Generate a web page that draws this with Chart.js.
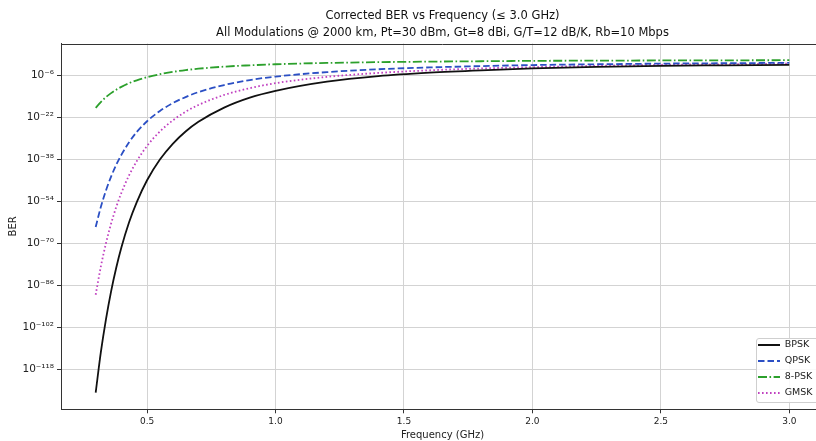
<!DOCTYPE html>
<html>
<head>
<meta charset="utf-8">
<script src="https://cdn.jsdelivr.net/npm/chart.js@4.4.1/dist/chart.umd.min.js"></script>
<style>
html,body{margin:0;padding:0;background:#fff;overflow:hidden;width:816px;height:441px}
#wrap{position:relative;width:830px;height:441px}
</style>
</head>
<body>
<div id="wrap"><canvas id="c"></canvas></div>
<script>
// ---- text ----
const titleLines = [
  'Corrected BER vs Frequency (\u2264 3.0 GHz)',
  'All Modulations @ 2000 km, Pt=30 dBm, Gt=8 dBi, G/T=12 dB/K, Rb=10 Mbps'
];
const xAxisTitle = 'Frequency (GHz)';
const yAxisTitle = 'BER';
const seriesNames = ['BPSK', 'QPSK', '8-PSK', 'GMSK'];

// ---- data (BER given as log10 exponents) ----
const freqGHz = [0.30,0.32,0.34,0.36,0.38,0.40,0.43,0.46,0.50,0.55,0.60,0.65,0.70,0.80,0.90,1.00,1.20,1.40,1.60,1.80,2.00,2.25,2.50,2.75,3.00];
const bpskLog10 = [-126.9,-111.6,-99.0,-88.3,-79.3,-71.6,-62.0,-54.3,-46.0,-38.1,-32.1,-27.4,-23.7,-18.3,-14.5,-11.9,-8.4,-6.3,-5.0,-4.1,-3.4,-2.8,-2.4,-2.2,-2.0];
const qpskLog10 = [-63.8,-56.2,-49.9,-44.6,-40.1,-36.3,-31.5,-27.6,-23.5,-19.6,-16.6,-14.3,-12.4,-9.7,-7.8,-6.5,-4.8,-3.7,-3.0,-2.5,-2.1,-1.8,-1.55,-1.4,-1.25];
const psk8Log10 = [-18.4,-16.2,-14.3,-12.8,-11.5,-10.4,-9.0,-7.9,-6.7,-5.6,-4.7,-4.0,-3.5,-2.7,-2.2,-1.8,-1.3,-1.0,-0.8,-0.65,-0.5,-0.42,-0.35,-0.3,-0.25];
const gmskLog10 = [-89.6,-78.9,-70.0,-62.5,-56.2,-50.8,-44.1,-38.7,-32.9,-27.4,-23.2,-19.9,-17.3,-13.5,-10.9,-9.0,-6.6,-5.1,-4.1,-3.4,-2.9,-2.4,-2.0,-1.8,-1.6];

// ---- ticks ----
const xTickValues = [0.5,1.0,1.5,2.0,2.5,3.0];
const yTickExponents = [-118,-102,-86,-70,-54,-38,-22,-6];
const xRange = [0.165, 3.135];
const yRangeExp = [-133.24, 6.11];

const toPoints = (logs) => freqGHz.map((f, i) => ({x: f, y: Math.pow(10, logs[i])}));
const SUP = {'-':'\u207B','0':'\u2070','1':'\u00B9','2':'\u00B2','3':'\u00B3','4':'\u2074','5':'\u2075','6':'\u2076','7':'\u2077','8':'\u2078','9':'\u2079'};
const supStr = (n) => String(n).split('').map(c => SUP[c]).join('');

const FONT = 'DejaVu Sans';
const TXT = '#222';

function drawLegendFrame(chart) {
  const ca = chart.chartArea, ctx = chart.ctx;
  const x0 = ca.right - 68, y0 = ca.bottom - 71.3, x1 = ca.right - 5, y1 = ca.bottom - 7.3;
  ctx.save();
  ctx.beginPath();
  if (ctx.roundRect) ctx.roundRect(x0 + 0.5, y0 + 0.5, x1 - x0, y1 - y0, 2.5);
  else ctx.rect(x0 + 0.5, y0 + 0.5, x1 - x0, y1 - y0);
  ctx.fillStyle = 'rgba(255,255,255,0.85)';
  ctx.fill();
  ctx.strokeStyle = '#cfcfcf';
  ctx.lineWidth = 1;
  ctx.stroke();
  ctx.restore();
}

const framePlugin = {
  id: 'framePlugin',
  beforeDraw(chart) {
    const {ctx, width, height} = chart;
    ctx.save(); ctx.fillStyle = '#fff'; ctx.fillRect(0, 0, width, height); ctx.restore();
  },
  afterInit(chart) {
    const lg = chart.legend;
    const fit = lg.fit;
    lg.fit = function () { fit.call(this); this._fw = this.width; this._fh = this.height; this.width = 0; };
    const draw = lg.draw;
    lg.draw = function () { drawLegendFrame(chart); draw.apply(this, arguments); };
  },
  afterLayout(chart) {
    const ca = chart.chartArea;
    const lg = chart.legend;
    lg.left = ca.right - 72.5;
    lg.top = ca.bottom - 75.55;
    lg.width = 70; lg.height = 100;
    lg.right = lg.left + 70; lg.bottom = lg.top + 100;
    if (chart.titleBlock) { chart.titleBlock.left = ca.left; chart.titleBlock.right = ca.right; chart.titleBlock.width = ca.right - ca.left; }
  },
  afterDatasetsDraw(chart) {
    const ca = chart.chartArea, ctx = chart.ctx;
    ctx.save();
    ctx.strokeStyle = '#333';
    ctx.lineWidth = 1;
    ctx.beginPath();
    ctx.moveTo(ca.left, Math.round(ca.top) + 0.5);
    ctx.lineTo(ca.right, Math.round(ca.top) + 0.5);
    ctx.stroke();
    ctx.restore();
  }
};

const mk = (label, logs, color, dash) => ({
  label, data: toPoints(logs), borderColor: color, backgroundColor: color,
  borderWidth: 1.8, borderDash: dash, pointRadius: 0, fill: false,
  cubicInterpolationMode: 'monotone', borderCapStyle: 'butt'
});

new Chart(document.getElementById('c'), {
  type: 'line',
  data: {
    datasets: [
      mk(seriesNames[0], bpskLog10, '#111111', []),
      mk(seriesNames[1], qpskLog10, '#2b4fc4', [6.5, 3]),
      mk(seriesNames[2], psk8Log10, '#2ca02c', [9, 2.5, 1.6, 2.5]),
      mk(seriesNames[3], gmskLog10, '#c040c0', [1.6, 2.4])
    ]
  },
  plugins: [framePlugin],
  options: {
    responsive: true,
    maintainAspectRatio: false,
    animation: false,
    devicePixelRatio: 1,
    events: [],
    layout: {padding: {left: 0, right: 6, top: 0, bottom: 0}},
    plugins: {
      tooltip: {enabled: false},
      title: {
        display: true,
        text: titleLines,
        color: '#111',
        font: {family: FONT, size: 11.5, weight: 'normal', lineHeight: 17 / 11.5},
        padding: {top: 7.5, bottom: 2}
      },
      legend: {
        display: true,
        position: 'right',
        align: 'start',
        labels: {
          color: TXT,
          font: {family: FONT, size: 9.5},
          usePointStyle: true,
          pointStyle: 'line',
          pointStyleWidth: 22,
          padding: 6.5,
          generateLabels(chart) {
            const items = Chart.defaults.plugins.legend.labels.generateLabels(chart);
            return items.map(it => {
              const ds = chart.data.datasets[it.datasetIndex];
              return Object.assign(it, {
                lineDash: ds.borderDash || [], strokeStyle: ds.borderColor,
                lineWidth: ds.borderWidth, pointStyle: 'line', lineCap: 'butt', rotation: 0
              });
            });
          }
        }
      }
    },
    scales: {
      x: {
        type: 'linear',
        min: xRange[0],
        max: xRange[1],
        afterBuildTicks(scale) { scale.ticks = xTickValues.map(v => ({value: v})); },
        afterFit(scale) { scale.height = 31.7; },
        ticks: {color: TXT, font: {family: FONT, size: 9}, padding: 3, maxRotation: 0, autoSkip: false,
                callback: v => Number(v).toFixed(1)},
        grid: {color: '#d3d3d3', lineWidth: 1, tickLength: 4, tickColor: '#333', drawTicks: true},
        border: {display: true, color: '#333', width: 1},
        title: {display: true, text: xAxisTitle, color: TXT, font: {family: FONT, size: 10, lineHeight: 1.2}, padding: {top: 0, bottom: 0}}
      },
      y: {
        type: 'logarithmic',
        min: Math.pow(10, yRangeExp[0]),
        max: Math.pow(10, yRangeExp[1]),
        bounds: 'data',
        afterBuildTicks(scale) { scale.ticks = yTickExponents.map(e => ({value: Math.pow(10, e)})); },
        afterFit(scale) { scale.width = 61; },
        ticks: {color: TXT, font: {family: FONT, size: 10.5}, padding: 3, autoSkip: false,
                callback: v => '10' + supStr(Math.round(Math.log10(v)))},
        grid: {color: '#d3d3d3', lineWidth: 1, tickLength: 4, tickColor: '#333', drawTicks: true},
        border: {display: true, color: '#333', width: 1},
        title: {display: true, text: yAxisTitle, color: TXT, font: {family: FONT, size: 10, lineHeight: 1.2}, padding: {top: 7, bottom: 0}}
      }
    }
  }
});
</script>
</body>
</html>
